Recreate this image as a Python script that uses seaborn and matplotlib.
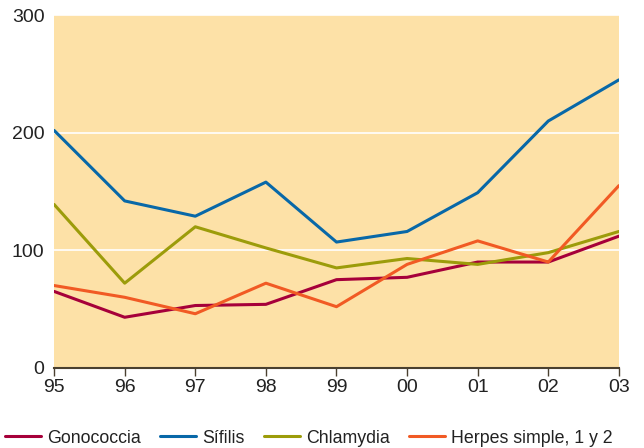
import pandas as pd
import matplotlib
matplotlib.use("Agg")
import matplotlib.pyplot as plt
import seaborn as sns

years = ["95", "96", "97", "98", "99", "00", "01", "02", "03"]
gonococcia = [65, 43, 53, 54, 75, 77, 90, 90, 112]
sifilis = [202, 142, 129, 158, 107, 116, 149, 210, 245]
chlamydia = [139, 72, 120, 102, 85, 93, 88, 98, 116]
herpes = [70, 60, 46, 72, 52, 88, 108, 90, 155]

series_names = ["Gonococcia", "Sífilis", "Chlamydia", "Herpes simple, 1 y 2"]
palette = {
    "Gonococcia": "#a6003a",
    "Sífilis": "#0868a8",
    "Chlamydia": "#9c9c0a",
    "Herpes simple, 1 y 2": "#f15a24",
}

df = pd.DataFrame({"Año": years, "Gonococcia": gonococcia, "Sífilis": sifilis,
                   "Chlamydia": chlamydia, "Herpes simple, 1 y 2": herpes})
df_long = df.melt(id_vars=["Año"], var_name="Serie", value_name="Casos")

sns.set_theme(style="white")
plt.rcParams['font.family'] = ['Liberation Sans', 'DejaVu Sans']

fig = plt.figure(figsize=(6.44, 4.48), dpi=100)
ax = fig.add_axes([0.084, 0.179, 0.877, 0.787])
ax.set_facecolor("#fde1a7")

sns.lineplot(data=df_long, x="Año", y="Casos", hue="Serie", hue_order=series_names,
             palette=palette, linewidth=2.2, ax=ax, sort=False)

ax.set_ylim(0, 300)
ax.set_xlim(0, len(years) - 1)
ax.set_yticks([0, 100, 200, 300])
ax.yaxis.grid(True, color="white", linewidth=1.2)
ax.set_axisbelow(True)
for s in ["top", "right", "left"]:
    ax.spines[s].set_visible(False)
ax.spines["bottom"].set_color("#4a4030")
ax.spines["bottom"].set_linewidth(1.5)
ax.tick_params(axis="x", bottom=True, length=6, width=1, color="#4a4030",
               labelsize=14, pad=2, labelcolor="#222222")
ax.tick_params(axis="y", left=False, labelsize=14, pad=1, labelcolor="#222222")
ax.set_xlabel("")
ax.set_ylabel("")

handles, labels = ax.get_legend_handles_labels()
ax.legend(handles, labels, loc="upper center", bbox_to_anchor=(0.451, -0.155),
          ncol=4, frameon=False, fontsize=12.8, handlelength=2.0,
          handletextpad=0.35, columnspacing=1.1, borderaxespad=0,
          labelcolor="#222222")

fig.savefig("out.png", dpi=100)
